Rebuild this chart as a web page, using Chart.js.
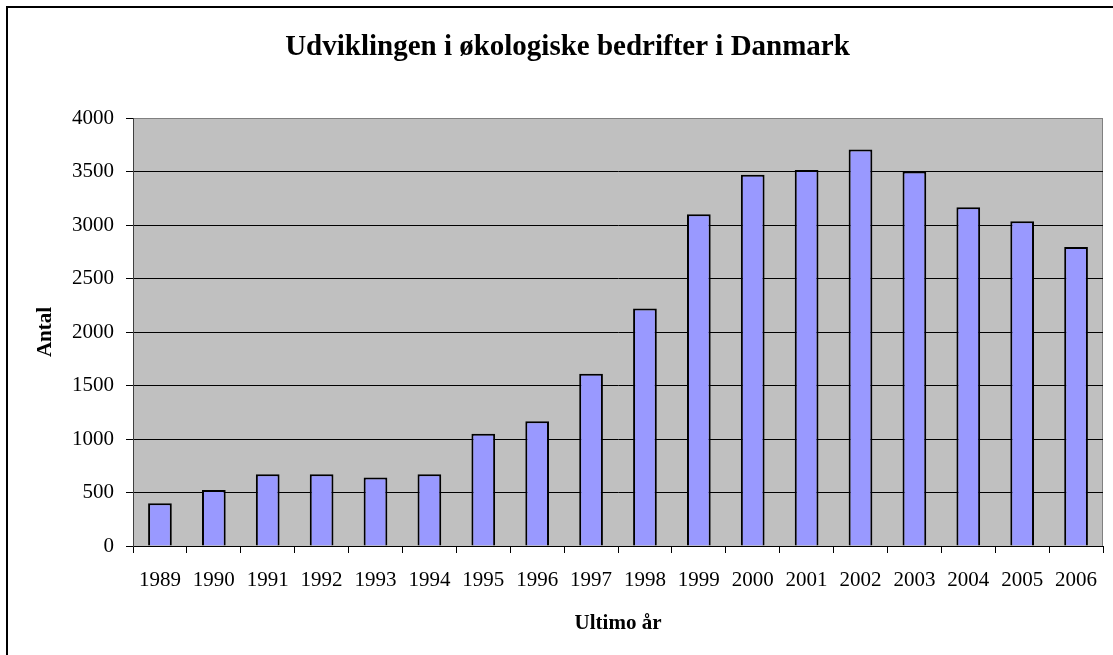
<!DOCTYPE html>
<html>
<head>
<meta charset="utf-8">
<title>Udviklingen i økologiske bedrifter i Danmark</title>
<script src="https://cdn.jsdelivr.net/npm/chart.js@4.4.1/dist/chart.umd.min.js"></script>
<style>
    body { margin: 0; background: #fff; }
    #wrap { width: 1113px; height: 655px; }
</style>
</head>
<body>
<div id="wrap"><canvas id="chart" width="1113" height="655"></canvas></div>
<script>
// Antal økologiske bedrifter, ultimo år
const years = ['1989', '1990', '1991', '1992', '1993', '1994', '1995', '1996', '1997',
               '1998', '1999', '2000', '2001', '2002', '2003', '2004', '2005', '2006'];
const farms = [400, 523, 670, 670, 640, 670, 1050, 1166, 1610,
               2220, 3100, 3470, 3515, 3705, 3500, 3165, 3035, 2795];
const yTicks = [0, 500, 1000, 1500, 2000, 2500, 3000, 3500, 4000];

const serif = "'Liberation Serif', 'Times New Roman', serif";

// gray plot area + outer frame, like the old Excel chart
const backdrop = {
    id: 'backdrop',
    beforeDraw(chart) {
        const { ctx, chartArea: a } = chart;
        ctx.save();
        ctx.fillStyle = '#fff';
        ctx.fillRect(0, 0, chart.width, chart.height);
        ctx.fillStyle = '#c0c0c0';
        ctx.fillRect(a.left, a.top, a.right - a.left, a.bottom - a.top);
        ctx.strokeStyle = '#808080';
        ctx.lineWidth = 1;
        ctx.beginPath();
        ctx.moveTo(a.left, a.top + 0.5);
        ctx.lineTo(a.right - 0.5, a.top + 0.5);
        ctx.lineTo(a.right - 0.5, a.bottom);
        ctx.stroke();
        ctx.strokeStyle = '#000';
        ctx.lineWidth = 2;
        ctx.strokeRect(7, 7, 1400, 1000);
        ctx.restore();
    }
};

const ctxFarms = document.getElementById('chart').getContext('2d');
const farmsChart = new Chart(ctxFarms, {
    type: 'bar',
    data: {
        labels: years,
        datasets: [{
            label: 'Antal',
            data: farms,
            backgroundColor: '#9999ff',
            borderColor: '#000',
            borderWidth: 2,
            barPercentage: 0.44,
            categoryPercentage: 1
        }]
    },
    options: {
        responsive: false,
        animation: false,
        layout: { padding: { left: 32, right: 10, top: 0, bottom: 0 } },
        plugins: {
            legend: { display: false },
            tooltip: { enabled: false },
            title: {
                display: true,
                text: 'Udviklingen i økologiske bedrifter i Danmark',
                color: '#000',
                font: { family: serif, size: 29, weight: 'bold' },
                padding: { top: 30, bottom: 53.2 }
            }
        },
        scales: {
            x: {
                offset: true,
                afterFit: s => { s.height = 109; },
                grid: { drawOnChartArea: false, tickLength: 7, color: '#000', tickColor: '#000' },
                border: { display: true, color: '#000', width: 1 },
                ticks: { color: '#000', padding: 15, maxRotation: 0, font: { family: serif, size: 21 } },
                title: {
                    display: true,
                    text: 'Ultimo år',
                    color: '#000',
                    font: { family: serif, size: 21, weight: 'bold' },
                    padding: { top: 0, bottom: 19 }
                }
            },
            y: {
                min: 0,
                max: 4000,
                afterFit: s => { s.width = 101; },
                afterBuildTicks: s => { s.ticks = yTicks.map(v => ({ value: v })); },
                grid: {
                    color: c => (c.tick && c.tick.value === 4000 ? '#808080' : '#000'),
                    tickColor: '#000',
                    lineWidth: 1,
                    tickLength: 7
                },
                border: { display: true, color: '#404040', width: 1 },
                ticks: {
                    color: '#000',
                    padding: 12,
                    font: { family: serif, size: 21 },
                    callback: v => String(v)
                },
                title: {
                    display: true,
                    text: 'Antal',
                    color: '#000',
                    font: { family: serif, size: 21, weight: 'bold' },
                    padding: { top: 1, bottom: 0 }
                }
            }
        }
    },
    plugins: [backdrop]
});
</script>
</body>
</html>
